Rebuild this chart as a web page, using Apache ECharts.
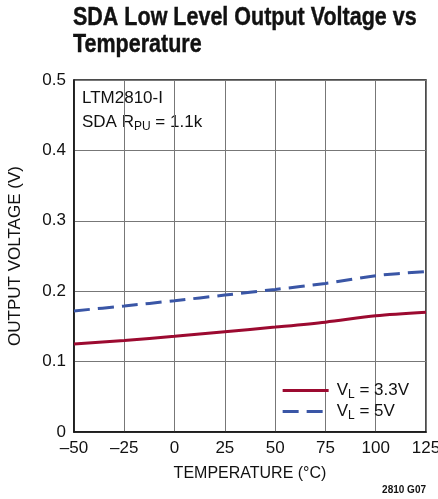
<!DOCTYPE html>
<html><head><meta charset="utf-8">
<style>html,body{margin:0;padding:0;background:#fff}#c{width:438px;height:499px}</style>
<script src="https://cdn.jsdelivr.net/npm/echarts@6/dist/echarts.min.js"></script>
</head><body><div id="c"></div>
<script>
const temperatures = [-50, -25, 0, 25, 50, 75, 100, 125];
const vl33 = [0.125, 0.130, 0.136, 0.1425, 0.149, 0.156, 0.165, 0.170];
const vl5 = [0.172, 0.179, 0.1865, 0.1945, 0.2025, 0.211, 0.222, 0.228];
const xTicks = {min: -50, max: 125, interval: 25};
const yTicks = {min: 0, max: 0.5, interval: 0.1};

const FONT = '"Liberation Sans", Arial, sans-serif';
const chart = echarts.init(document.getElementById('c'));
const pair = a => temperatures.map((t, i) => [t, a[i]]);
const sub = {s: {fontSize: 12, verticalAlign: 'bottom', padding: [9, 0, 0, 0], fontFamily: FONT, color: '#111'}};
chart.setOption({
  animation: false,
  textStyle: {fontFamily: FONT},
  grid: {left: 74, right: 12, top: 80, bottom: 67, show: true, borderColor: '#111', borderWidth: 1.5,
    containLabel: false, outerBoundsMode: 'none'},
  legend: {
    right: 24, top: 377, orient: 'vertical', itemWidth: 46, itemHeight: 12, itemGap: 2,
    itemStyle: {opacity: 0}, lineStyle: {width: 3},
    textStyle: {fontFamily: FONT, fontSize: 17, color: '#111', rich: sub, padding: [0, 0, 0, 3]},
    formatter: n => n === 'a' ? 'V{s|L} = 3.3V' : 'V{s|L} = 5V',
    data: ['a', 'b']
  },
  xAxis: {
    type: 'value', min: xTicks.min, max: xTicks.max, interval: xTicks.interval,
    name: 'TEMPERATURE (°C)', nameLocation: 'middle', nameGap: 34,
    nameTextStyle: {fontFamily: FONT, fontSize: 16, color: '#111'},
    axisLine: {show: true, onZero: false, lineStyle: {color: '#111', width: 1.5}},
    axisTick: {show: false},
    axisLabel: {fontFamily: FONT, fontSize: 17, color: '#111', margin: 8,
      formatter: v => String(v).replace('-', '–')},
    splitLine: {show: true, lineStyle: {color: '#777', width: 1}}
  },
  yAxis: {
    type: 'value', min: yTicks.min, max: yTicks.max, interval: yTicks.interval,
    name: 'OUTPUT VOLTAGE (V)', nameLocation: 'middle', nameGap: 50, nameRotate: 90,
    nameTextStyle: {fontFamily: FONT, fontSize: 17, color: '#111'},
    axisLine: {show: true, onZero: false, lineStyle: {color: '#111', width: 1.5}},
    axisTick: {show: false},
    axisLabel: {fontFamily: FONT, fontSize: 17, color: '#111', margin: 8,
      formatter: v => v === 0 ? '0' : String(+v.toFixed(1))},
    splitLine: {show: true, lineStyle: {color: '#777', width: 1}}
  },
  graphic: [
    {type: 'text', x: 73, y: 5, scaleX: 0.86, originX: 0, originY: 0, style: {
      text: 'SDA Low Level Output Voltage vs\nTemperature', font: 'bold 25px ' + FONT,
      lineHeight: 27, fill: '#111', stroke: '#111', lineWidth: 0.4}},
    {type: 'text', left: 82, top: 90, style: {text: 'LTM2810-I', font: '17px ' + FONT, fill: '#111'}},
    {type: 'text', left: 82, top: 114, style: {
      text: 'SDA R{s|PU} = 1.1k', font: '17px ' + FONT, fill: '#111', rich: sub}},
    {type: 'text', right: 12, bottom: 4, style: {text: '2810 G07', font: 'bold 10px ' + FONT, fill: '#111'}}
  ],
  series: [
    {name: 'a', type: 'line', smooth: 0.3, symbol: 'none', data: pair(vl33),
      lineStyle: {color: '#9c0a30', width: 3}, itemStyle: {color: '#9c0a30'}},
    {name: 'b', type: 'line', smooth: 0.3, symbol: 'none', data: pair(vl5),
      lineStyle: {color: '#3a56a6', width: 3, type: [16, 8]}, itemStyle: {color: '#3a56a6'}}
  ]
});
</script></body></html>
